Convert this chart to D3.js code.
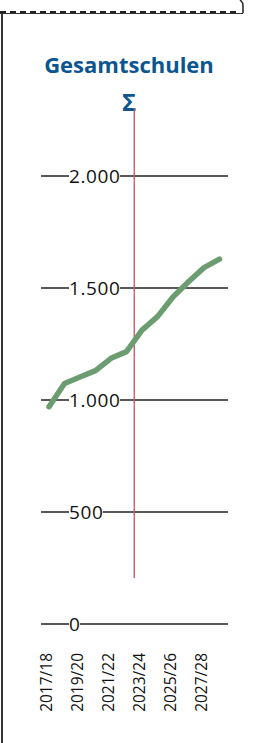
<!DOCTYPE html>
<html>
<head>
<meta charset="utf-8">
<script src="https://cdn.jsdelivr.net/npm/d3@7"></script>
<style>
  body { margin: 0; background: #fff; }
  svg { display: block; }
</style>
</head>
<body>
<svg id="chart"></svg>
<script>
// school years, one point per year
var years = ["2017/18","2018/19","2019/20","2020/21","2021/22","2022/23",
             "2023/24","2024/25","2025/26","2026/27","2027/28","2028/29"];
// pupils
var pupils = [970, 1074, 1103, 1131, 1186, 1216, 1312, 1372, 1460, 1528, 1591, 1629];
var yTicks = [0, 500, 1000, 1500, 2000];
var tickLabels = ["0", "500", "1.000", "1.500", "2.000"];
// only every second year gets a label
var xLabels = ["2017/18","2019/20","2021/22","2023/24","2025/26","2027/28"];
var title = "Gesamtschulen";

var screen = {width:254, height:743};

var svg = d3.select("#chart")
    .attr("width", screen.width)
    .attr("height", screen.height);

//frame of the card
svg.append("line")
    .attr("x1",2).attr("x2",2)
    .attr("y1",13).attr("y2",screen.height)
    .attr("stroke","#333").attr("stroke-width",2);
svg.append("line")
    .attr("x1",0).attr("x2",243)
    .attr("y1",13.5).attr("y2",13.5)
    .attr("stroke","#333").attr("stroke-width",1);
svg.append("line")
    .attr("x1",0).attr("x2",240)
    .attr("y1",12).attr("y2",12)
    .attr("stroke","#222").attr("stroke-width",2)
    .attr("stroke-dasharray","6,4");
svg.append("path")
    .attr("d","M240,0 Q243,2 243,6 L243,13")
    .attr("fill","none").attr("stroke","#222").attr("stroke-width",1.5);

//scales
var xScale = d3.scalePoint()
    .domain(years)
    .range([49, 49 + 15.5*(years.length-1)]);

var yScale = d3.scaleLinear()
    .domain([0, 2000])
    .range([624, 176]);

//title and sigma
svg.append("text")
    .attr("x",129).attr("y",73)
    .attr("text-anchor","middle")
    .attr("font-family","'Open Sans', sans-serif")
    .attr("font-weight","bold")
    .attr("font-size",22)
    .attr("fill","#0b5590")
    .text(title);

svg.append("text")
    .attr("x",129).attr("y",111)
    .attr("text-anchor","middle")
    .attr("font-family","'Open Sans', sans-serif")
    .attr("font-weight","bold")
    .attr("font-size",24)
    .attr("fill","#0b5590")
    .text("Σ");

//gridlines with labels sitting on them
var grid = svg.append("g");
grid.selectAll("line")
    .data(yTicks)
    .enter()
    .append("line")
    .attr("x1",41).attr("x2",228)
    .attr("y1",function(d){ return yScale(d); })
    .attr("y2",function(d){ return yScale(d); })
    .attr("stroke","#222").attr("stroke-width",1.3);

var labels = grid.selectAll("g.lab")
    .data(yTicks)
    .enter()
    .append("g")
    .classed("lab",true);

labels.append("text")
    .attr("x",69)
    .attr("y",function(d){ return yScale(d); })
    .attr("dy","0.36em")
    .attr("font-family","'Open Sans', sans-serif")
    .attr("font-size",19)
    .attr("letter-spacing",0.6)
    .attr("fill","#111")
    .text(function(d,i){ return tickLabels[i]; });

//white box behind each label so the gridline stops at the text
labels.each(function()
{
    var box = d3.select(this).select("text").node().getBBox();
    d3.select(this).insert("rect","text")
        .attr("x",box.x)
        .attr("y",box.y+3)
        .attr("width",box.width-0.6)
        .attr("height",box.height-6)
        .attr("fill","#fff");
});

//marker between actual and forecast years
var splitX = (xScale("2022/23") + xScale("2023/24"))/2;
svg.append("line")
    .attr("x1",splitX).attr("x2",splitX)
    .attr("y1",108).attr("y2",578)
    .attr("stroke","#cf4b66").attr("stroke-width",1.3);

//the line
var line = d3.line()
    .x(function(d,i){ return xScale(years[i]); })
    .y(function(d){ return yScale(d); });

svg.append("path")
    .datum(pupils)
    .attr("d",line)
    .attr("fill","none")
    .attr("stroke","#6b9d70")
    .attr("stroke-width",5.5)
    .attr("stroke-linecap","round")
    .attr("stroke-linejoin","round");

//year labels, rotated
svg.append("g")
    .selectAll("text")
    .data(xLabels)
    .enter()
    .append("text")
    .attr("transform",function(d){
        return "translate("+(xScale(d)-2.5)+",653) rotate(-90)";
    })
    .attr("dy","0.35em")
    .attr("text-anchor","end")
    .attr("font-family","'Open Sans', sans-serif")
    .attr("font-weight",500)
    .attr("font-size",15.5)
    .attr("fill","#111")
    .text(function(d){ return d; });
</script>
</body>
</html>
